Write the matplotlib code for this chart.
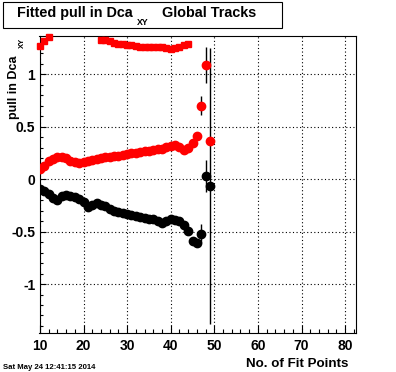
import numpy as np
import matplotlib
matplotlib.use('Agg')
import matplotlib.pyplot as plt
from matplotlib.patches import Rectangle
from matplotlib.ticker import MultipleLocator

# 数据：拟合点数 10..49
n_fit = np.arange(10, 50)

# 红色（圆点）
red_pull = [0.10, 0.13, 0.17, 0.19, 0.21, 0.21, 0.20, 0.17, 0.16, 0.155,
            0.16, 0.17, 0.18, 0.19, 0.20, 0.21, 0.21, 0.22, 0.22, 0.23,
            0.24, 0.25, 0.25, 0.26, 0.27, 0.27, 0.28, 0.29, 0.29, 0.31,
            0.32, 0.33, 0.31, 0.28, 0.30, 0.34, 0.41, 0.70, 1.09, 0.365]
red_err = [0.0] * 37 + [0.09, 0.17, 0.0]

# 黑色（圆点）
black_pull = [-0.09, -0.11, -0.14, -0.18, -0.20, -0.16, -0.15, -0.16, -0.17, -0.19,
              -0.22, -0.27, -0.25, -0.23, -0.25, -0.26, -0.28, -0.30, -0.31, -0.32,
              -0.33, -0.34, -0.35, -0.36, -0.37, -0.38, -0.38, -0.40, -0.42, -0.40,
              -0.38, -0.39, -0.40, -0.44, -0.49, -0.59, -0.61, -0.52, 0.03, -0.065]
black_err = [0.0] * 37 + [0.09, 0.15, 1.32]

# 红色方块（13..23 超出范围，不画）
nan = np.nan
sq_pull = [1.27, 1.32, 1.36, nan, nan, nan, nan, nan, nan, nan,
           nan, nan, nan, nan, 1.33, 1.33, 1.32, 1.30, 1.29, 1.29,
           1.28, 1.28, 1.27, 1.26, 1.26, 1.26, 1.26, 1.26, 1.26, 1.25,
           1.24, 1.25, 1.26, 1.28, 1.29]
sq_x = np.arange(10, 10 + len(sq_pull))

W, H = 396, 372
fig = plt.figure(figsize=(W / 100, H / 100), dpi=100)
plt.rcParams['font.family'] = ['Liberation Sans', 'DejaVu Sans']

def px(x, y):
    return x / W, 1 - y / H

ax = fig.add_axes([39.5 / W, 1 - 333 / H, (356 - 39.5) / W, (333 - 36) / H])
ax.set_xlim(9.9, 82.5)
ax.set_ylim(-1.467, 1.365)

ax.errorbar(n_fit, black_pull, yerr=black_err, fmt='o', color='black', ms=6,
            ecolor='black', elinewidth=1, capsize=0, zorder=3)
ax.errorbar(n_fit, red_pull, yerr=red_err, fmt='o', color='red', mec='red', ms=6,
            ecolor='black', elinewidth=1, capsize=0, zorder=3)
ax.plot(sq_x, sq_pull, 's', color='red', ms=5, clip_on=False, zorder=3)

ax.xaxis.set_major_locator(MultipleLocator(10))
ax.xaxis.set_minor_locator(MultipleLocator(2))
ax.yaxis.set_major_locator(MultipleLocator(0.5))
ax.yaxis.set_minor_locator(MultipleLocator(0.1))
ax.grid(True, which='major', color='black', linestyle=(0, (1, 2.2)), linewidth=0.8)
ax.set_axisbelow(True)
ax.tick_params(axis='x', which='major', direction='in', length=6, width=0.8,
               labelsize=10, pad=4)
ax.tick_params(axis='x', which='minor', direction='in', length=3.2, width=0.8)
ax.tick_params(axis='y', which='major', direction='in', length=4, width=0.8,
               labelsize=10, pad=3)
ax.tick_params(axis='y', which='minor', direction='in', length=2, width=0.8)
for lab in ax.get_xticklabels():
    lab.set_fontweight('bold')
ax.set_yticks([-1, -0.5, 0, 0.5, 1])
ax.set_yticklabels(['-1', '-0.5', '0', '0.5', '1'], fontweight='bold')
for s in ax.spines.values():
    s.set_linewidth(0.8)

# 标题框
fig.patches.append(Rectangle(px(3.3, 27.7), (282 - 3.3) / W, 26 / H,
                             transform=fig.transFigure, facecolor='white',
                             edgecolor='black', linewidth=0.8))
fig.text(*px(17, 16.7), 'Fitted pull in Dca', fontsize=10.4, fontweight='bold', va='baseline')
fig.text(*px(137, 25), 'XY', fontsize=6.3, fontweight='bold', va='baseline')
fig.text(*px(162, 16.7), 'Global Tracks', fontsize=10.4, fontweight='bold', va='baseline')

# y 轴标题
fig.text(*px(17, 119), 'pull in Dca', fontsize=9, fontweight='bold', rotation=90,
         rotation_mode='anchor', ha='left', va='baseline')
fig.text(*px(23.5, 48), 'XY', fontsize=5.5, fontweight='bold', rotation=90,
         rotation_mode='anchor', ha='left', va='baseline')

# x 轴标题
fig.text(*px(348, 367), 'No. of Fit Points', fontsize=9.6, fontweight='bold',
         ha='right', va='baseline')

# 日期
fig.text(*px(3, 369), 'Sat May 24 12:41:15 2014', fontsize=5.6, fontweight='bold',
         va='baseline')

fig.savefig('out.png', dpi=100)
